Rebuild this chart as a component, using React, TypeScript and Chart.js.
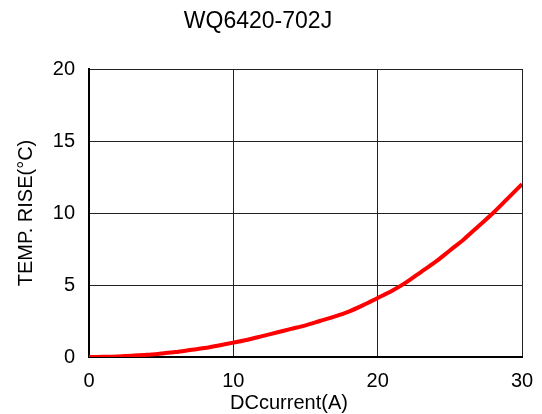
import React, { useEffect, useRef } from "react";
import { Chart, registerables } from "chart.js";

Chart.register(...registerables);

const currents = [0, 1, 2, 3, 4, 5, 6, 7, 8, 9, 10, 11, 12, 13, 14, 15, 16, 17, 18, 19, 20, 21, 22, 23, 24, 25, 26, 27, 28, 29, 30];
const temps = [0, 0.01, 0.04, 0.09, 0.15, 0.24, 0.34, 0.48, 0.62, 0.8, 1.0, 1.2, 1.45, 1.7, 1.95, 2.2, 2.5, 2.8, 3.15, 3.6, 4.1, 4.6, 5.2, 5.9, 6.6, 7.4, 8.2, 9.1, 10.0, 11.0, 12.0];
const xTicks = [0, 10, 20, 30];
const yTicks = [0, 5, 10, 15, 20];
const titleText = "WQ6420-702J";
const xTitle = "DCcurrent(A)";
const yTitle = "TEMP. RISE(°C)";

const FONT = "'Liberation Sans', Arial, sans-serif";

const textPlugin = {
  id: "texts",
  afterDraw(chart: any) {
    const ctx = chart.ctx;
    ctx.save();
    ctx.fillStyle = "#000";
    ctx.textAlign = "center";
    ctx.textBaseline = "middle";
    ctx.font = `23px ${FONT}`;
    ctx.fillText(titleText, 258, 22);
    ctx.font = `20px ${FONT}`;
    ctx.fillText(xTitle, 289, 403);
    ctx.translate(26, 213);
    ctx.rotate(-Math.PI / 2);
    ctx.fillText(yTitle, 0, 0);
    ctx.restore();
  },
};

export default function App() {
  const ref = useRef<HTMLCanvasElement>(null);
  useEffect(() => {
    if (!ref.current) return;
    const chart = new Chart(ref.current, {
      type: "line",
      data: {
        datasets: [
          {
            data: currents.map((c, i) => ({ x: c, y: temps[i] })),
            borderColor: "#ff0000",
            backgroundColor: "#ff0000",
            borderWidth: 4,
            pointRadius: 0,
            tension: 0.3,
            fill: false,
          },
        ],
      },
      options: {
        responsive: false,
        animation: false,
        layout: { padding: { top: 69, right: 20, left: 0, bottom: 0 } },
        plugins: { legend: { display: false }, title: { display: false }, tooltip: { enabled: false } },
        scales: {
          x: {
            type: "linear",
            min: 0,
            max: 30,
            afterBuildTicks: (s: any) => {
              s.ticks = xTicks.map((v) => ({ value: v }));
            },
            afterFit: (s: any) => {
              s.height = 57;
              s.paddingLeft = 0;
              s.paddingRight = 0;
            },
            grid: { color: "#222", lineWidth: 1, drawTicks: false },
            border: { color: "#000", width: 2 },
            ticks: { color: "#000", font: { family: FONT, size: 20 }, padding: 12, maxRotation: 0 },
          },
          y: {
            type: "linear",
            min: 0,
            max: 20,
            afterBuildTicks: (s: any) => {
              s.ticks = yTicks.map((v) => ({ value: v }));
            },
            afterFit: (s: any) => {
              s.width = 89;
              s.paddingTop = 0;
              s.paddingBottom = 0;
            },
            grid: { color: "#222", lineWidth: 1, drawTicks: false },
            border: { color: "#000", width: 2 },
            ticks: { color: "#000", font: { family: FONT, size: 20 }, padding: 14 },
          },
        },
      },
      plugins: [textPlugin],
    });
    return () => chart.destroy();
  }, []);
  return (
    <div style={{ position: "fixed", left: 0, top: 0, width: 542, height: 414, background: "#fff" }}>
      <canvas ref={ref} width={542} height={414} style={{ width: 542, height: 414 }} />
    </div>
  );
}
